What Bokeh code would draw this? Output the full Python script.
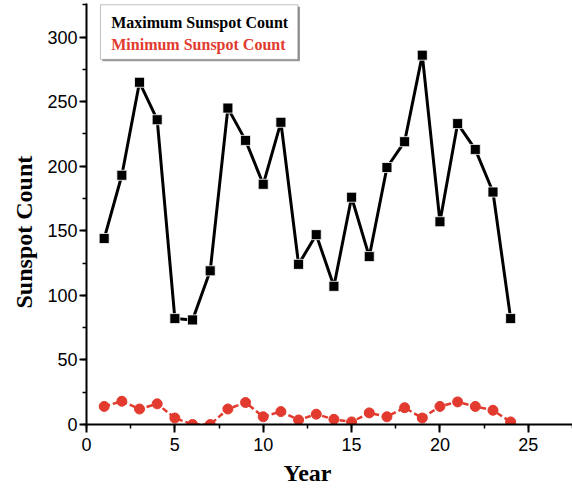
from bokeh.plotting import figure
from bokeh.models import Range1d, Label, BoxAnnotation, SingleIntervalTicker, Title
from bokeh.embed import file_html
from bokeh.resources import INLINE

# Yearly sunspot counts
years = list(range(1, 25))
max_count = [144, 193, 265, 236, 82, 81, 119, 245, 220, 186, 234, 124,
             147, 107, 176, 130, 199, 219, 286, 157, 233, 213, 180, 82]
min_count = [14, 18, 12, 16, 5, 0, 0, 12, 17, 6, 10, 3.5,
             8, 4, 2, 9, 6, 13, 5, 14, 17.5, 14, 11, 2]

RED = "#e23a2e"
SERIF = "Liberation Serif"
SANS = "Liberation Sans"

p = figure(width=572, height=489, output_backend="svg", toolbar_location=None,
           x_range=Range1d(0, 27.5), y_range=Range1d(0, 326),
           min_border_left=86, min_border_right=0, min_border_top=3,
           min_border_bottom=65)
p.outline_line_color = None
p.xgrid.visible = False
p.ygrid.visible = False

# axes
p.xaxis.ticker = SingleIntervalTicker(interval=5, num_minor_ticks=2)
p.yaxis.ticker = SingleIntervalTicker(interval=50, num_minor_ticks=2)
for ax in (p.xaxis, p.yaxis):
    ax.axis_line_width = 2
    ax.major_tick_line_width = 2
    ax.minor_tick_line_width = 1.5
    ax.major_tick_in = 0
    ax.minor_tick_in = 0
    ax.major_label_text_font = SANS
    ax.major_label_text_font_size = "18px"
    ax.major_label_text_color = "black"
    ax.axis_line_color = "black"
    ax.major_tick_line_color = "black"
    ax.minor_tick_line_color = "black"
p.xaxis.major_tick_out = 8
p.xaxis.minor_tick_out = 4
p.yaxis.major_tick_out = 7
p.yaxis.minor_tick_out = 4
p.xaxis.major_label_standoff = 5
p.yaxis.major_label_standoff = 2

# series
p.line(years, max_count, line_color="black", line_width=3)
p.scatter(years, max_count, marker="square", size=10, fill_color="black",
          line_color="white", line_width=0.8)
p.line(years, min_count, line_color=RED, line_width=2.5, line_dash="6 3")
p.scatter(years, min_count, marker="circle", size=10, fill_color=RED,
          line_color=RED)

# axis titles
p.add_layout(Title(text="Year", text_font=SERIF, text_font_style="bold",
                   text_font_size="24px", text_color="black", align="left",
                   offset=197, standoff=8), "below")
p.add_layout(Title(text="Sunspot Count", text_font=SERIF, text_font_style="bold",
                   text_font_size="24px", text_color="black", align="left",
                   offset=116, standoff=15), "left")

# legend box with shadow
p.add_layout(BoxAnnotation(left=0.9, right=12.08, top=323.5, bottom=281.2,
                           fill_color="#9a9a9a", fill_alpha=1,
                           line_color=None))
p.add_layout(BoxAnnotation(left=0.79, right=11.96, top=325, bottom=282.7,
                           fill_color="white", fill_alpha=1,
                           line_color="#333333", line_width=1))
p.add_layout(Label(x=1.4, y=311, text="Maximum Sunspot Count", text_font=SERIF,
                   text_font_style="bold", text_font_size="16px",
                   text_color="black", text_baseline="middle"))
p.add_layout(Label(x=1.4, y=294, text="Minimum Sunspot Count", text_font=SERIF,
                   text_font_style="bold", text_font_size="16px",
                   text_color=RED, text_baseline="middle"))

open("out.html", "w").write(file_html(p, INLINE))
